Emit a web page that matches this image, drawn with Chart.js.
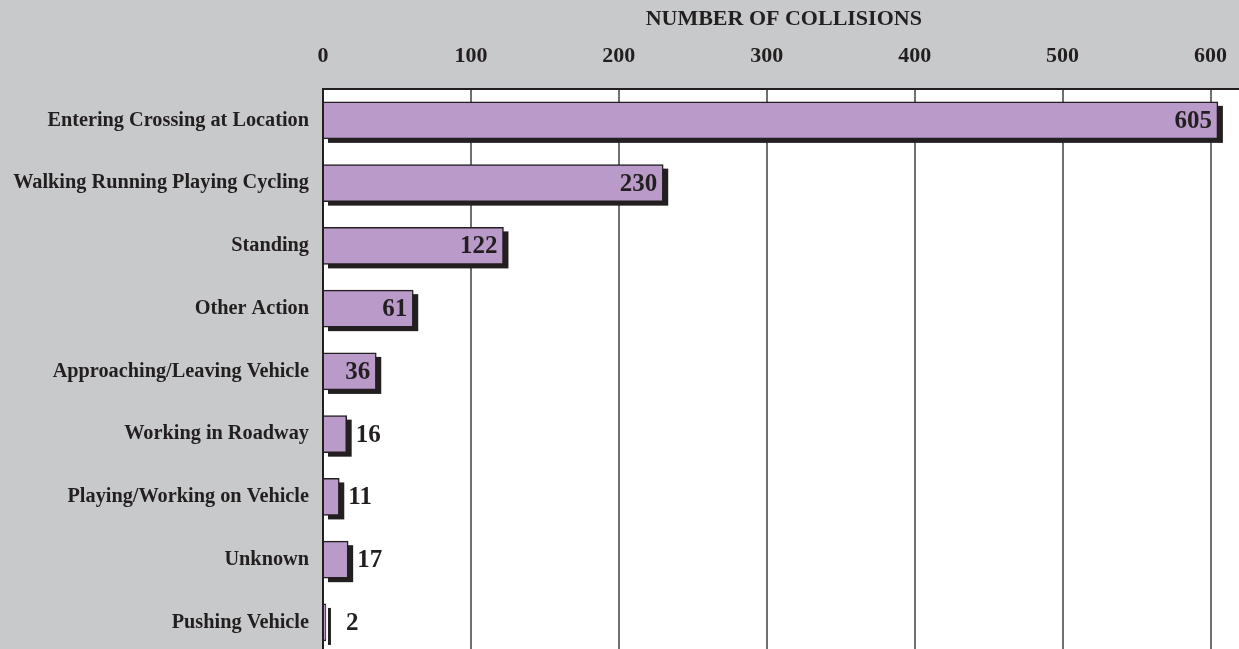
<!DOCTYPE html>
<html>
<head>
<meta charset="utf-8">
<script src="https://cdn.jsdelivr.net/npm/chart.js@4/dist/chart.umd.min.js"></script>
<style>
  html, body { margin:0; padding:0; background:#c8c9cb; overflow:hidden; }
  #wrap { width:1239px; height:649px; overflow:hidden; }
</style>
</head>
<body>
<div id="wrap"><canvas id="c" width="1246" height="680"></canvas></div>
<script>
const categories = [
  'Entering Crossing at Location', 'Walking Running Playing Cycling', 'Standing',
  'Other Action', 'Approaching/Leaving Vehicle', 'Working in Roadway',
  'Playing/Working on Vehicle', 'Unknown', 'Pushing Vehicle',
];
const collisions = [605, 230, 122, 61, 36, 16, 11, 17, 2];
const xTicks = [0, 100, 200, 300, 400, 500, 600];

const INK = '#231f20';
const SERIF = '"Liberation Serif", "DejaVu Serif", serif';

// white plot area on the gray page
const plotBg = {
  id: 'plotBg',
  beforeDraw(chart) {
    const { ctx, chartArea: a } = chart;
    ctx.save();
    ctx.fillStyle = '#c8c9cb';
    ctx.fillRect(0, 0, chart.width, chart.height);
    ctx.fillStyle = '#ffffff';
    ctx.fillRect(a.left, a.top, a.right - a.left + 10, a.bottom - a.top + 10);
    ctx.restore();
  },
};

// dark drop shadow behind each bar
const barShadow = {
  id: 'barShadow',
  beforeDatasetsDraw(chart) {
    const { ctx } = chart;
    ctx.save();
    ctx.fillStyle = INK;
    chart.getDatasetMeta(0).data.forEach(b => {
      const h = b.height;
      ctx.fillRect(b.base + 4, b.y - h / 2 + 4, b.x - b.base + 1, h);
    });
    ctx.restore();
  },
};

// value labels: inside end for long bars, beside for short ones
const valueLabels = {
  id: 'valueLabels',
  afterDatasetsDraw(chart) {
    const { ctx } = chart;
    ctx.save();
    ctx.font = 'bold 25px ' + SERIF;
    ctx.fillStyle = INK;
    ctx.textBaseline = 'middle';
    chart.getDatasetMeta(0).data.forEach((b, i) => {
      const v = collisions[i];
      if (v >= 30) {
        ctx.textAlign = 'right';
        ctx.fillText(String(v), b.x - 6, b.y + 1);
      } else {
        ctx.textAlign = 'left';
        ctx.fillText(String(v), Math.max(b.x + 9, b.base + 22), b.y + 1);
      }
    });
    ctx.restore();
  },
};

new Chart(document.getElementById('c'), {
  type: 'bar',
  data: {
    labels: categories,
    datasets: [{
      data: collisions,
      backgroundColor: '#b99ac9',
      borderColor: INK,
      borderWidth: 1.5,
      borderSkipped: 'left',
      barThickness: 37,
    }],
  },
  options: {
    indexAxis: 'y',
    responsive: false,
    animation: false,
    layout: { padding: 0 },
    plugins: { legend: { display: false }, tooltip: { enabled: false } },
    scales: {
      x: {
        position: 'top',
        min: 0, max: 623,
        afterBuildTicks: s => { s.ticks = xTicks.map(v => ({ value: v })); },
        afterFit: s => { s.height = 89; },
        ticks: { color: INK, font: { family: SERIF, size: 22, weight: 'bold' }, padding: 19 },
        grid: { color: '#707070', lineWidth: 2, drawTicks: false },
        border: { display: true, color: INK, width: 2 },
        title: {
          display: true, text: 'NUMBER OF COLLISIONS', color: INK,
          font: { family: SERIF, size: 22, weight: 'bold' }, padding: { top: 6, bottom: 2 },
        },
      },
      y: {
        afterFit: s => { s.width = 323; },
        ticks: { color: INK, font: { family: SERIF, size: 20.3, weight: 'bold' }, padding: 14 },
        grid: { display: false, drawTicks: false },
        border: { display: true, color: INK, width: 2 },
      },
    },
  },
  plugins: [plotBg, barShadow, valueLabels],
});
</script>
</body>
</html>
